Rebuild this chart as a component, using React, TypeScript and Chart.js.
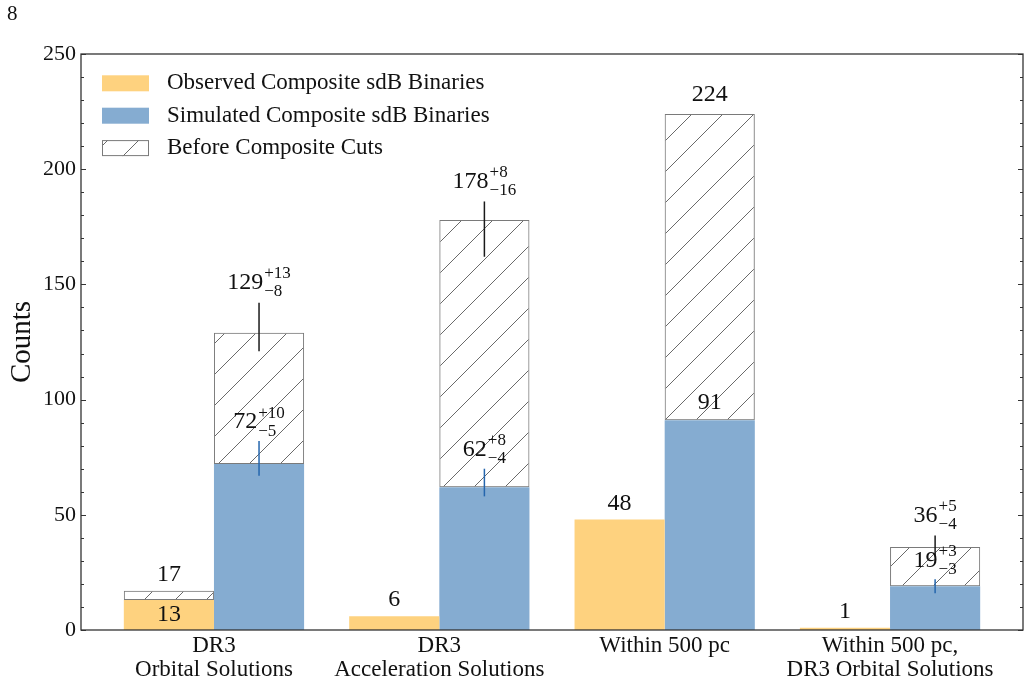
import React, { useEffect, useRef } from 'react';
import { Chart, registerables } from 'chart.js';

Chart.register(...registerables);

// ---------------- data ----------------
const categories: string[][] = [
  ['DR3', 'Orbital Solutions'],
  ['DR3', 'Acceleration Solutions'],
  ['Within 500 pc'],
  ['Within 500 pc,', 'DR3 Orbital Solutions'],
];
const observedAfterCuts: number[] = [13, 6, 48, 1];
const observedBeforeCuts: (number | null)[] = [17, null, null, null];
const simulatedAfterCuts: number[] = [72, 62, 91, 19];
const simulatedAfterErrUp: (number | null)[] = [10, 8, null, 3];
const simulatedAfterErrDown: (number | null)[] = [5, 4, null, 3];
const simulatedBeforeCuts: number[] = [129, 178, 224, 36];
const simulatedBeforeErrUp: (number | null)[] = [13, 8, null, 5];
const simulatedBeforeErrDown: (number | null)[] = [8, 16, null, 4];
const yTickValues: number[] = [0, 50, 100, 150, 200, 250];
const yMinorStep = 10;
const legendLabels: string[] = [
  'Observed Composite sdB Binaries',
  'Simulated Composite sdB Binaries',
  'Before Composite Cuts',
];

// ---------------- styles ----------------
const FONT = '"Liberation Serif", "Times New Roman", serif';
const YELLOW = 'rgb(254, 210, 127)';
const BLUE = 'rgb(133, 172, 209)';
const HATCH_EDGE = '#7a7a7a';
const ERR_BLACK = '#1a1a1a';
const ERR_BLUE = '#2566ad';
const AXIS = '#333333';

function makeHatch(): CanvasPattern | string {
  const s = 31;
  const c = document.createElement('canvas');
  c.width = s;
  c.height = s;
  const g = c.getContext('2d');
  if (!g) return 'rgba(0,0,0,0)';
  g.strokeStyle = '#6a6a6a';
  g.lineWidth = 1;
  g.beginPath();
  for (const k of [-s, 0, s]) {
    g.moveTo(k, s);
    g.lineTo(k + s, 0);
  }
  g.stroke();
  const p = g.createPattern(c, 'repeat');
  return p || 'rgba(0,0,0,0)';
}

function drawValueLabel(
  ctx: CanvasRenderingContext2D,
  cx: number,
  cy: number,
  main: string,
  up?: string | null,
  down?: string | null
) {
  ctx.save();
  ctx.fillStyle = '#111';
  ctx.textBaseline = 'middle';
  ctx.textAlign = 'left';
  ctx.font = `24px ${FONT}`;
  const wMain = ctx.measureText(main).width;
  let wScript = 0;
  if (up && down) {
    ctx.font = `17px ${FONT}`;
    wScript = Math.max(ctx.measureText(up).width, ctx.measureText(down).width) + 1;
  }
  const x0 = cx - (wMain + wScript) / 2;
  ctx.font = `24px ${FONT}`;
  ctx.fillText(main, x0, cy);
  if (up && down) {
    ctx.font = `17px ${FONT}`;
    ctx.fillText(up, x0 + wMain + 1, cy - 9);
    ctx.fillText(down, x0 + wMain + 1, cy + 9);
  }
  ctx.restore();
}

const annotatePlugin = {
  id: 'annotate',
  afterDatasetsDraw(chart: any) {
    const ctx: CanvasRenderingContext2D = chart.ctx;
    const y = chart.scales.y;
    const obsMeta = chart.getDatasetMeta(0);
    const simMeta = chart.getDatasetMeta(2);
    const drawErr = (x: number, v: number, up: number, down: number, color: string) => {
      ctx.save();
      ctx.strokeStyle = color;
      ctx.lineWidth = 1.5;
      ctx.beginPath();
      ctx.moveTo(x, y.getPixelForValue(v - down));
      ctx.lineTo(x, y.getPixelForValue(v + up));
      ctx.stroke();
      ctx.restore();
    };
    categories.forEach((_, i) => {
      const sx = simMeta.data[i].x;
      const ox = obsMeta.data[i].x;
      const bu = simulatedBeforeErrUp[i];
      const bd = simulatedBeforeErrDown[i];
      const au = simulatedAfterErrUp[i];
      const ad = simulatedAfterErrDown[i];
      if (bu != null && bd != null) drawErr(sx, simulatedBeforeCuts[i], bu, bd, ERR_BLACK);
      if (au != null && ad != null) drawErr(sx, simulatedAfterCuts[i], au, ad, ERR_BLUE);

      // simulated labels
      if (bu != null && bd != null) {
        drawValueLabel(ctx, sx, y.getPixelForValue(simulatedBeforeCuts[i] + bu) - 20,
          String(simulatedBeforeCuts[i]), `+${bu}`, `\u2212${bd}`);
      } else {
        drawValueLabel(ctx, sx, y.getPixelForValue(simulatedBeforeCuts[i]) - 19, String(simulatedBeforeCuts[i]));
      }
      if (au != null && ad != null) {
        drawValueLabel(ctx, sx, y.getPixelForValue(simulatedAfterCuts[i] + au) - 19,
          String(simulatedAfterCuts[i]), `+${au}`, `\u2212${ad}`);
      } else {
        drawValueLabel(ctx, sx, y.getPixelForValue(simulatedAfterCuts[i]) - 18, String(simulatedAfterCuts[i]));
      }

      // observed labels
      const ob = observedBeforeCuts[i];
      if (ob != null) {
        drawValueLabel(ctx, ox, y.getPixelForValue(ob) - 16, String(ob));
        const mid = (y.getPixelForValue(observedAfterCuts[i]) + y.getPixelForValue(0)) / 2;
        drawValueLabel(ctx, ox, mid, String(observedAfterCuts[i]));
      } else {
        drawValueLabel(ctx, ox, y.getPixelForValue(observedAfterCuts[i]) - 16, String(observedAfterCuts[i]));
      }
    });
  },
};

const framePlugin = {
  id: 'frame',
  afterDraw(chart: any) {
    const ctx: CanvasRenderingContext2D = chart.ctx;
    const { left, right, top, bottom } = chart.chartArea;
    const y = chart.scales.y;
    ctx.save();
    // minor + major inward ticks on left and right
    ctx.strokeStyle = AXIS;
    ctx.lineWidth = 1;
    for (let v = y.min; v <= y.max + 1e-9; v += yMinorStep) {
      const py = Math.round(y.getPixelForValue(v)) + 0.5;
      const major = yTickValues.includes(v);
      const len = major ? 5 : 3;
      ctx.beginPath();
      ctx.moveTo(left, py);
      ctx.lineTo(left + len, py);
      ctx.moveTo(right, py);
      ctx.lineTo(right - len, py);
      ctx.stroke();
    }
    // box
    ctx.lineWidth = 1.3;
    ctx.strokeStyle = AXIS;
    ctx.strokeRect(left, top, right - left, bottom - top);

    // legend
    const ds = chart.data.datasets;
    const fills = [ds[0].backgroundColor, ds[2].backgroundColor, ds[3].backgroundColor];
    const boxX = left + 21;
    const boxW = 47;
    const boxH = 16;
    legendLabels.forEach((label, k) => {
      const cy = top + 29.3 + k * 32.4;
      ctx.fillStyle = fills[k];
      ctx.fillRect(boxX, cy - boxH / 2, boxW, boxH);
      if (k === 2) {
        ctx.strokeStyle = HATCH_EDGE;
        ctx.lineWidth = 1;
        ctx.strokeRect(boxX + 0.5, cy - boxH / 2 + 0.5, boxW - 1, boxH - 1);
      }
      ctx.fillStyle = '#111';
      ctx.font = `23px ${FONT}`;
      ctx.textAlign = 'left';
      ctx.textBaseline = 'middle';
      ctx.fillText(label, boxX + boxW + 18, cy);
    });

    // stray page label
    ctx.fillStyle = '#111';
    ctx.font = `21px ${FONT}`;
    ctx.textAlign = 'left';
    ctx.textBaseline = 'alphabetic';
    ctx.fillText('8', 7, 20);
    ctx.restore();
  },
};

export default function App() {
  const ref = useRef<HTMLCanvasElement>(null);
  useEffect(() => {
    if (!ref.current) return;
    const hatch = makeHatch();
    const toXY = (arr: (number | null)[]) => arr.map((v, i) => ({ x: i, y: v }));
    const obsExtra = observedBeforeCuts.map((b, i) => (b == null ? null : b - observedAfterCuts[i]));
    const simExtra = simulatedBeforeCuts.map((b, i) => b - simulatedAfterCuts[i]);

    const chart = new Chart(ref.current, {
      type: 'bar',
      data: {
        datasets: [
          {
            label: legendLabels[0],
            data: toXY(observedAfterCuts) as any,
            stack: 'obs',
            backgroundColor: YELLOW,
            borderWidth: 0,
          },
          {
            label: legendLabels[2] + ' (observed)',
            data: toXY(obsExtra) as any,
            stack: 'obs',
            backgroundColor: hatch as any,
            borderColor: HATCH_EDGE,
            borderWidth: 1,
            borderSkipped: false,
          },
          {
            label: legendLabels[1],
            data: toXY(simulatedAfterCuts) as any,
            stack: 'sim',
            backgroundColor: BLUE,
            borderWidth: 0,
          },
          {
            label: legendLabels[2],
            data: toXY(simExtra) as any,
            stack: 'sim',
            backgroundColor: hatch as any,
            borderColor: HATCH_EDGE,
            borderWidth: 1,
            borderSkipped: false,
          },
        ],
      },
      options: {
        animation: false,
        responsive: false,
        devicePixelRatio: 1,
        layout: { padding: { top: 54, right: 8, left: 0, bottom: 0 } },
        datasets: { bar: { categoryPercentage: 0.8, barPercentage: 1.0 } } as any,
        plugins: {
          legend: { display: false },
          tooltip: { enabled: false },
          title: { display: false },
        },
        scales: {
          x: {
            type: 'linear',
            min: -0.59,
            max: 3.59,
            offset: false,
            stacked: true,
            grid: { display: false, drawTicks: false, offset: false },
            border: { display: false },
            afterBuildTicks: (scale: any) => {
              scale.ticks = categories.map((_, i) => ({ value: i }));
            },
            afterFit: (scale: any) => {
              scale.height = 53;
            },
            ticks: {
              autoSkip: false,
              maxRotation: 0,
              minRotation: 0,
              padding: 4,
              color: '#111',
              font: { family: FONT, size: 23, lineHeight: 1.05 },
              callback: (_v: any, index: number) => categories[index],
            },
          },
          y: {
            type: 'linear',
            min: 0,
            max: 250,
            stacked: true,
            grid: { display: false, drawTicks: false },
            border: { display: false },
            afterBuildTicks: (scale: any) => {
              scale.ticks = yTickValues.map((v) => ({ value: v }));
            },
            afterFit: (scale: any) => {
              scale.width = 81;
            },
            ticks: {
              padding: 5,
              color: '#111',
              font: { family: FONT, size: 22 },
            },
            title: {
              display: true,
              text: 'Counts',
              color: '#111',
              font: { family: FONT, size: 29 },
              padding: { top: 5, bottom: 0 },
            },
          },
        },
      },
      plugins: [annotatePlugin, framePlugin],
    } as any);
    return () => chart.destroy();
  }, []);

  return (
    <div style={{ position: 'absolute', left: 0, top: 0, width: 1031, height: 683 }}>
      <canvas ref={ref} width={1031} height={683} style={{ display: 'block' }} />
    </div>
  );
}
